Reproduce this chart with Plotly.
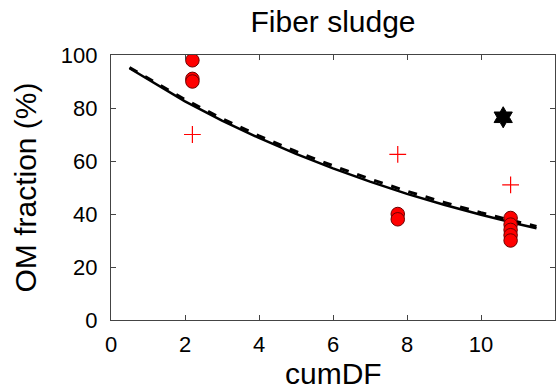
import plotly.graph_objects as go

# Data
circ_x = [2.2, 2.2, 2.2, 7.75, 7.75, 10.8, 10.8, 10.8, 10.8, 10.8]
circ_y = [98, 91, 90, 40, 38, 38.5, 36, 34, 32, 30]
plus_x = [2.2, 7.75, 10.8]
plus_y = [70, 62.5, 51]
star_x = [10.6]
star_y = [76.5]
fit_x = [0.5, 1, 2, 3, 4, 5, 6, 7, 8, 9, 10, 11, 11.5]
fit_y = [95, 90.8, 82.5, 75.2, 68.7, 62.7, 57.2, 52.2, 47.6, 43.5, 39.7, 36.2, 34.6]
fit2_y = [95.3, 91.2, 83.2, 76.0, 69.5, 63.6, 58.2, 53.2, 48.6, 44.4, 40.5, 37.0, 35.3]
x_ticks = [0, 2, 4, 6, 8, 10, 12]
y_ticks = [0, 20, 40, 60, 80, 100]

fig = go.Figure()
fig.add_trace(go.Scatter(x=fit_x, y=fit2_y, mode="lines",
                         line=dict(color="black", width=3, dash="dash"), showlegend=False))
fig.add_trace(go.Scatter(x=fit_x, y=fit_y, mode="lines",
                         line=dict(color="black", width=2.5), showlegend=False))
fig.add_trace(go.Scatter(x=circ_x, y=circ_y, mode="markers",
                         marker=dict(symbol="circle", size=13.5, color="#ff0000",
                                     line=dict(color="#6b0000", width=1)), showlegend=False))
fig.add_trace(go.Scatter(x=plus_x, y=plus_y, mode="markers",
                         marker=dict(symbol="cross-thin", size=12,
                                     line=dict(color="#ff0000", width=1.2)), showlegend=False))
fig.add_trace(go.Scatter(x=star_x, y=star_y, mode="markers",
                         marker=dict(symbol="hexagram", size=16, color="black",
                                     line=dict(color="black", width=1)), showlegend=False))

axis_common = dict(showgrid=False, zeroline=False, showline=True, linecolor="#444",
                   linewidth=1.2, mirror="ticks", ticks="inside", ticklen=5,
                   tickcolor="#444", tickfont=dict(size=22, color="black"),
                   automargin=False)
fig.update_layout(
    width=560, height=389,
    margin=dict(l=111, r=5, t=55, b=69),
    paper_bgcolor="white", plot_bgcolor="white",
    font=dict(family="Liberation Sans, Arial, sans-serif", color="black"),
    title=dict(text="Fiber sludge", x=(111 + 555) / 2 / 560, xanchor="center",
               y=1 - 21 / 389, yanchor="middle", font=dict(size=30, color="black")),
    xaxis=dict(range=[0, 12], tickvals=x_ticks, ticklabelstandoff=4, **axis_common),
    yaxis=dict(range=[0, 100], tickvals=y_ticks, ticklabelstandoff=8,
               title=dict(text="OM fraction (%)", font=dict(size=30)), **axis_common),
    annotations=[dict(text="cumDF", xref="paper", yref="paper", x=0.5, y=-0.2,
                      xanchor="center", yanchor="middle", showarrow=False,
                      font=dict(size=30, color="black"))],
)
fig.write_html("out.html", config={"displayModeBar": False},
               post_script="document.body.style.margin='0';")
